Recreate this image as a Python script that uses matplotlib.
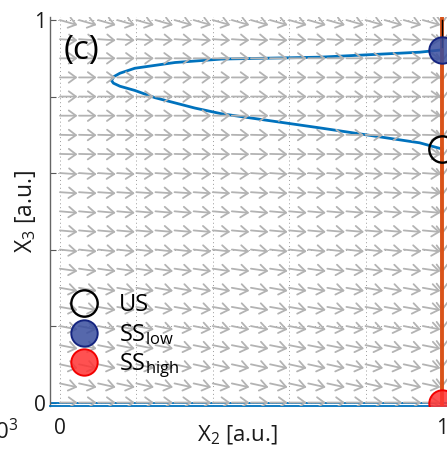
import matplotlib
matplotlib.use("Agg")
import matplotlib.pyplot as plt
from matplotlib.patches import FancyArrowPatch

plt.rcParams['font.family'] = ['Open Sans', 'DejaVu Sans']
plt.rcParams['mathtext.fontset'] = 'custom'
plt.rcParams['mathtext.rm'] = 'Open Sans'
plt.rcParams['mathtext.it'] = 'Open Sans:italic'
plt.rcParams['mathtext.default'] = 'regular'

# ---- data ----
# blue nullcline (X3 vs X2), traced from upper end through the tip to lower end
curve_x2 = [1.000, 0.942, 0.681, 0.423, 0.301, 0.196, 0.157, 0.141, 0.135,
            0.140, 0.157, 0.196, 0.249, 0.353, 0.423, 0.681, 0.942, 1.000]
curve_x3 = [0.922, 0.916, 0.903, 0.898, 0.889, 0.874, 0.861, 0.852, 0.842,
            0.835, 0.827, 0.816, 0.797, 0.770, 0.755, 0.718, 0.679, 0.663]
x3_null_low = 0.0      # blue horizontal nullcline
x2_null = 1.0          # orange vertical nullcline
black_seg_x3 = [0.93, 1.0]

# steady states
us_x2, us_x3 = 1.0, 0.663
sslow_x2, sslow_x3 = 1.0, 0.922
sshigh_x2, sshigh_x3 = 1.0, 0.0

# vector field (grid positions and components)
arrow_x2 = [0.00, 0.05, 0.10, 0.15, 0.20, 0.25, 0.30, 0.35, 0.40, 0.45, 0.50,
            0.55, 0.60, 0.65, 0.70, 0.75, 0.80, 0.85, 0.90, 0.95, 1.00]
arrow_x3 = [1.00, 0.95, 0.90, 0.85, 0.80, 0.75, 0.70, 0.65, 0.60, 0.55, 0.50,
            0.45, 0.40, 0.35, 0.30, 0.25, 0.20, 0.15, 0.10, 0.05, 0.00]
arrow_dx2 = [0.046] * 20 + [0.0]
arrow_dx3_rows = [-0.013, -0.003, 0.0, 0.0, 0.0, 0.0, -0.001, -0.001, -0.003,
                  -0.003, -0.004, -0.004, -0.005, -0.0065, -0.008, -0.008,
                  -0.009, -0.009, -0.010, -0.010, 0.0]
edge_dx3 = -0.012

xticks = [0, 0.2, 0.4, 0.6, 0.8, 1.0]
xticklabels = ['0', '', '', '', '', '1']
yticks = [0, 0.2, 0.4, 0.6, 0.8, 1.0]
yticklabels = ['0', '', '', '', '', '1']

# ---- figure ----
W, H = 447, 453
fig = plt.figure(figsize=(W / 100, H / 100), dpi=100)
ax = fig.add_axes([50 / W, 1 - 406 / H, 403.4 / W, 389 / H])
ax.set_xlim(-0.026, 1.03)
ax.set_ylim(-0.009, 1.008)

mblue = (0.0, 0.447, 0.741)
morange = (0.85, 0.325, 0.098)
agray = (0.70, 0.70, 0.70)

ax.grid(True, linestyle=(0, (1, 3)), color='0.6', linewidth=0.7)
ax.set_axisbelow(True)

ax.axhline(x3_null_low, color=mblue, lw=1.3, zorder=2)
ax.plot(curve_x2, curve_x3, color=mblue, lw=2.0, zorder=2,
        solid_joinstyle='round')

for j, y in enumerate(arrow_x3):
    for i, x in enumerate(arrow_x2):
        dx = arrow_dx2[i]
        dy = arrow_dx3_rows[j] if dx != 0 else edge_dx3
        if dx == 0 and y == 0:
            continue
        arr = FancyArrowPatch((x, y), (x + dx, y + dy),
                              arrowstyle='->,head_length=0.52,head_width=0.38',
                              mutation_scale=10, color=agray, lw=1.3,
                              shrinkA=0, shrinkB=0, zorder=3)
        ax.add_patch(arr)

ax.axvline(x2_null, color=morange, lw=2.8, zorder=4)
ax.plot([x2_null, x2_null], black_seg_x3, color='k', lw=1.0, zorder=4.5)

ms = 19
ax.plot([us_x2], [us_x3], 'o', ms=ms, mfc='none', mec='k', mew=1.7,
        zorder=5, label='US')
ax.plot([sslow_x2], [sslow_x3], 'o', ms=ms, mfc=(0.22, 0.3, 0.62, 0.85),
        mec=(0.08, 0.14, 0.5), mew=1.4, zorder=5, label=r'SS$_\mathrm{low}$')
ax.plot([sshigh_x2], [sshigh_x3], 'o', ms=ms, mfc=(1.0, 0.2, 0.2, 0.85),
        mec=(0.95, 0.0, 0.0), mew=1.4, zorder=5, label=r'SS$_\mathrm{high}$')

leg = ax.legend(loc='center left', bbox_to_anchor=(0.046, 0.178), frameon=False,
                fontsize=17, borderpad=0, handlelength=1.3, handletextpad=0.85,
                labelspacing=0.2, borderaxespad=0)
leg.set_zorder(6)

ax.set_xticks(xticks)
ax.set_xticklabels(xticklabels)
ax.set_yticks(yticks)
ax.set_yticklabels(yticklabels)
ax.tick_params(direction='in', length=4, width=0.8, colors='0.35',
               labelsize=15, labelcolor='0.1')
ax.tick_params(axis='x', pad=9, length=0)
ax.tick_params(axis='y', pad=3)

for s in ['top', 'right']:
    ax.spines[s].set_visible(False)
ax.spines['left'].set_color('0.4')
ax.spines['left'].set_linewidth(1.0)
ax.spines['bottom'].set_color(mblue)
ax.spines['bottom'].set_linewidth(1.3)

ax.set_xlabel(r'X$_2$ [a.u.]', fontsize=16, color='0.1')
ax.xaxis.set_label_coords(0.464, -0.045)
ax.set_ylabel(r'X$_3$ [a.u.]', fontsize=16.5, color='0.1')
ax.yaxis.set_label_coords(-0.03, 0.5)

ax.text(0.077, 0.913, '(c)', transform=ax.transAxes, fontsize=24,
        ha='center', va='center', color='k', zorder=7)

fig.text(18 / W, 1 - 432 / H, r'$\times$10$^3$', fontsize=16, ha='right',
         va='center', color='0.1')

fig.savefig('out.png', dpi=100)
